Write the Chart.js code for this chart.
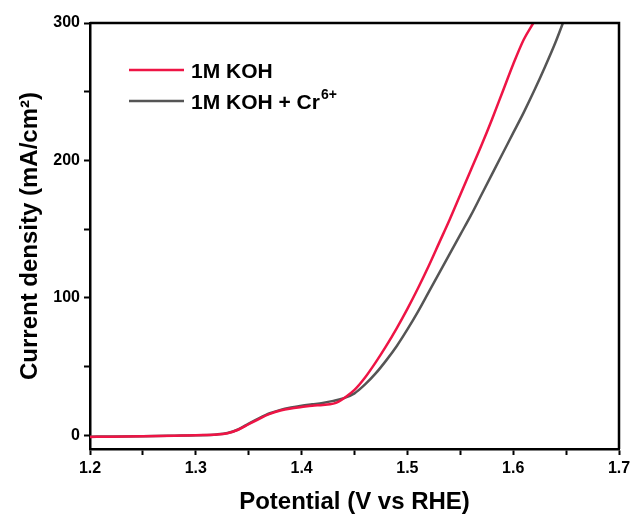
<!DOCTYPE html>
<html>
<head>
<meta charset="utf-8">
<script src="https://cdn.jsdelivr.net/npm/chart.js@4"></script>
<style>
  html, body { margin: 0; padding: 0; background: #fff; }
  #wrap { width: 635px; height: 525px; }
</style>
</head>
<body>
<div id="wrap"><canvas id="lsvChart" width="635" height="525"></canvas></div>
<script>
// LSV curves, current density (mA/cm2) vs potential (V vs RHE)
const kohPotential = [1.20, 1.22, 1.25, 1.28, 1.30, 1.32, 1.33, 1.34, 1.35, 1.36, 1.37, 1.38, 1.39, 1.40,
  1.41, 1.42, 1.43, 1.435, 1.44, 1.45, 1.46, 1.47, 1.48, 1.49, 1.50, 1.51, 1.52, 1.53, 1.54, 1.55,
  1.56, 1.57, 1.58, 1.59, 1.60, 1.61, 1.619];
const kohCurrent = [-1.2, -1.0, -0.8, -0.4, 0, 0.5, 1.5, 4, 8, 12, 15.5, 18, 19.5, 20.5,
  21.5, 22, 23, 24.5, 27, 33, 42, 53, 65, 78, 92, 107, 123, 140, 157, 175,
  193, 211, 230, 250, 270, 288, 300];

const crPotential = [1.20, 1.22, 1.25, 1.28, 1.30, 1.32, 1.33, 1.34, 1.35, 1.36, 1.37, 1.38, 1.39, 1.40,
  1.41, 1.42, 1.43, 1.44, 1.45, 1.46, 1.47, 1.48, 1.49, 1.50, 1.51, 1.52, 1.53, 1.54, 1.55,
  1.56, 1.57, 1.58, 1.59, 1.60, 1.61, 1.62, 1.63, 1.64, 1.647];
const crCurrent = [-1.0, -0.9, -0.7, -0.3, 0, 0.6, 1.6, 4.2, 8.5, 12.5, 16, 18.5, 20.2, 21.5,
  22.5, 23.5, 25, 27, 30.5, 37, 45, 54.5, 65, 77, 90, 104, 118, 132, 146,
  160, 175, 190, 205, 220, 235, 251, 268, 286, 300];

// legend names, with the part that is set as superscript
const seriesNames = ['1M KOH', '1M KOH + Cr'];
const seriesSup = ['', '6+'];
const seriesColors = ['#ee1445', '#555555'];

const xTickValues = [1.2, 1.25, 1.3, 1.35, 1.4, 1.45, 1.5, 1.55, 1.6, 1.65, 1.7];
const yTickValues = [0, 50, 100, 150, 200, 250, 300];

const toPoints = (xs, ys) => xs.map((x, i) => ({ x: x, y: ys[i] }));

const FONT = '"Liberation Sans", Arial, sans-serif';

// legend drawn inside the plot, top left
const insideLegend = {
  id: 'insideLegend',
  afterDraw(chart) {
    const ctx = chart.ctx;
    const area = chart.chartArea;
    ctx.save();
    ctx.textBaseline = 'alphabetic';
    chart.data.datasets.forEach((ds, i) => {
      const y = area.top + 47 + i * 31;
      const x0 = area.left + 39;
      ctx.strokeStyle = ds.borderColor;
      ctx.lineWidth = 2.5;
      ctx.beginPath();
      ctx.moveTo(x0, y);
      ctx.lineTo(x0 + 55, y);
      ctx.stroke();
      ctx.fillStyle = '#000';
      ctx.font = 'bold 21px ' + FONT;
      const tx = x0 + 62;
      ctx.fillText(ds.label, tx, y + 8);
      if (seriesSup[i]) {
        const w = ctx.measureText(ds.label).width;
        ctx.font = 'bold 14px ' + FONT;
        ctx.fillText(seriesSup[i], tx + w + 1, y - 2);
      }
    });
    ctx.restore();
  }
};

// closes the box on the top and right sides
const frame = {
  id: 'frame',
  afterDraw(chart) {
    const { ctx, chartArea: a } = chart;
    ctx.save();
    ctx.strokeStyle = '#000';
    ctx.lineWidth = 2.5;
    ctx.beginPath();
    ctx.moveTo(a.left, a.top);
    ctx.lineTo(a.right, a.top);
    ctx.lineTo(a.right, a.bottom);
    ctx.stroke();
    ctx.restore();
  }
};

const tickFont = { family: FONT, size: 16, weight: 'bold' };
const titleFont = { family: FONT, size: 24, weight: 'bold' };

new Chart(document.getElementById('lsvChart'), {
  type: 'line',
  data: {
    datasets: [
      {
        label: seriesNames[0],
        data: toPoints(kohPotential, kohCurrent),
        borderColor: seriesColors[0],
        borderWidth: 2.5,
        pointRadius: 0,
        cubicInterpolationMode: 'monotone',
        fill: false
      },
      {
        label: seriesNames[1],
        data: toPoints(crPotential, crCurrent),
        borderColor: seriesColors[1],
        borderWidth: 2.5,
        pointRadius: 0,
        cubicInterpolationMode: 'monotone',
        fill: false
      }
    ]
  },
  options: {
    responsive: false,
    animation: false,
    layout: { padding: { left: 0, top: 23, right: 16, bottom: 0 } },
    plugins: {
      legend: { display: false },
      tooltip: { enabled: false }
    },
    scales: {
      x: {
        type: 'linear',
        min: 1.2,
        max: 1.7,
        afterBuildTicks: (scale) => { scale.ticks = xTickValues.map(v => ({ value: v })); },
        afterFit: (scale) => { scale.height = 76; },
        grid: { display: true, drawOnChartArea: false, tickLength: 6, tickWidth: 2, color: '#000' },
        border: { display: true, color: '#000', width: 2.5 },
        ticks: {
          font: tickFont,
          color: '#000',
          padding: 4,
          maxRotation: 0,
          autoSkip: false,
          callback: (v) => (Math.round(v * 100) % 10 === 0 ? v.toFixed(1) : '')
        },
        title: {
          display: true,
          text: 'Potential (V vs RHE)',
          font: titleFont,
          color: '#000',
          padding: { top: 0, bottom: 8 }
        }
      },
      y: {
        min: -10,
        max: 300,
        afterBuildTicks: (scale) => { scale.ticks = yTickValues.map(v => ({ value: v })); },
        afterFit: (scale) => { scale.width = 90; },
        grid: { display: true, drawOnChartArea: false, tickLength: 6, tickWidth: 2, color: '#000' },
        border: { display: true, color: '#000', width: 2.5 },
        ticks: {
          font: tickFont,
          color: '#000',
          padding: 4,
          autoSkip: false,
          callback: (v) => (v % 100 === 0 ? String(v) : '')
        },
        title: {
          display: true,
          text: 'Current density (mA/cm\u00B2)',
          font: titleFont,
          color: '#000',
          padding: { top: 16, bottom: 0 }
        }
      }
    }
  },
  plugins: [insideLegend, frame]
});
</script>
</body>
</html>
